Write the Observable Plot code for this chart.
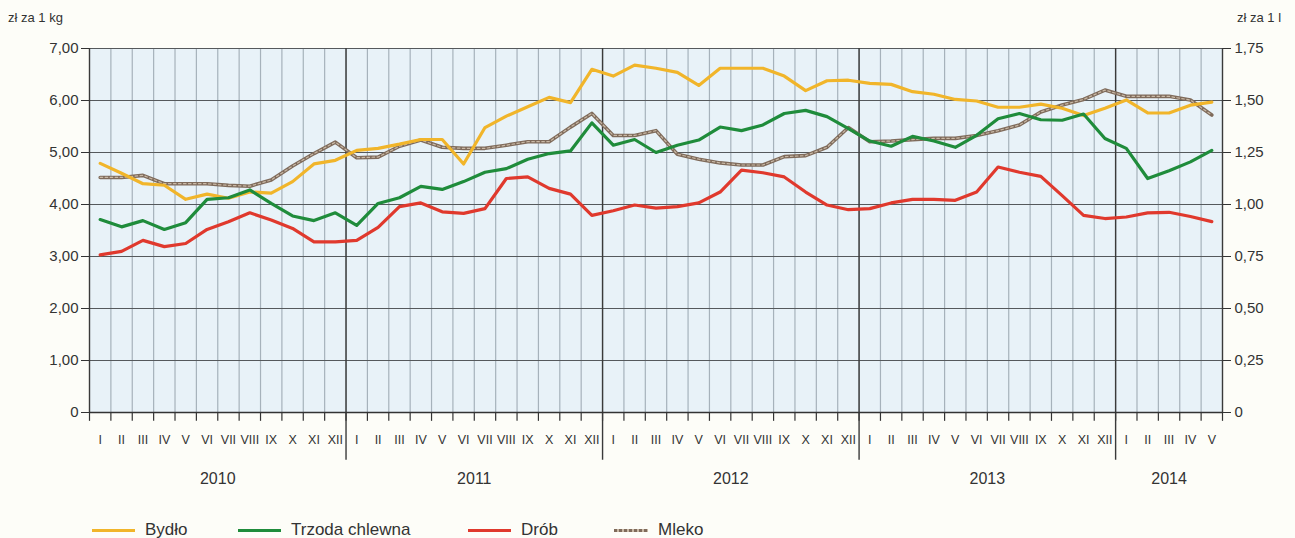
<!DOCTYPE html>
<html>
<head>
<meta charset="utf-8">
<script src="https://cdn.jsdelivr.net/npm/d3@7"></script>
<script src="https://cdn.jsdelivr.net/npm/@observablehq/plot@0.6"></script>
<style>
  html, body { margin: 0; padding: 0; background: #fdfdf8; }
  body { width: 1295px; height: 538px; position: relative; overflow: hidden; font-family: "Liberation Sans", Arial, sans-serif; color: #333; }
  .unit { position: absolute; top: 10px; font-size: 13px; color: #333; }
  #legend { position: absolute; top: 520px; left: 0; width: 1295px; height: 22px; }
  .item { position: absolute; top: 0; display: flex; align-items: center; font-size: 17px; color: #333; }
  .sw { display: inline-block; width: 43px; height: 3px; margin-right: 10px; }
  #chart { position: absolute; top: 0; left: 0; }
</style>
</head>
<body>
<div class="unit" style="left:8px">zł za 1 kg</div>
<div class="unit" style="left:1237px">zł za 1 l</div>
<div id="chart"></div>
<div id="legend"></div>
<script>
// ---- data ----
const months = ["I","II","III","IV","V","VI","VII","VIII","IX","X","XI","XII"];
const years = ["2010","2011","2012","2013","2014"];
const monthsPerYear = [12, 12, 12, 12, 5];

// zł za 1 kg
const bydlo = [
  4.79, 4.60, 4.40, 4.37, 4.10, 4.20, 4.12, 4.24, 4.22, 4.44, 4.78, 4.85,
  5.04, 5.08, 5.16, 5.25, 5.25, 4.78, 5.48, 5.70, 5.88, 6.06, 5.96, 6.60,
  6.47, 6.68, 6.62, 6.54, 6.29, 6.62, 6.62, 6.62, 6.47, 6.19, 6.38, 6.39,
  6.33, 6.31, 6.17, 6.12, 6.02, 5.99, 5.87, 5.87, 5.93, 5.85, 5.71, 5.85,
  6.01, 5.76, 5.76, 5.91, 5.97
];
const trzoda = [
  3.71, 3.57, 3.69, 3.52, 3.65, 4.10, 4.13, 4.28, 4.02, 3.78, 3.69, 3.84,
  3.60, 4.02, 4.13, 4.35, 4.29, 4.44, 4.62, 4.69, 4.87, 4.98, 5.03, 5.57,
  5.14, 5.25, 5.00, 5.14, 5.24, 5.49, 5.42, 5.53, 5.75, 5.81, 5.69, 5.46,
  5.22, 5.12, 5.31, 5.22, 5.10, 5.33, 5.65, 5.75, 5.63, 5.62, 5.74, 5.27,
  5.08, 4.50, 4.65, 4.82, 5.04
];
const drob = [
  3.03, 3.10, 3.31, 3.19, 3.25, 3.52, 3.67, 3.84, 3.70, 3.54, 3.28, 3.28,
  3.31, 3.56, 3.96, 4.03, 3.86, 3.83, 3.92, 4.50, 4.53, 4.31, 4.20, 3.79,
  3.88, 3.99, 3.93, 3.96, 4.03, 4.24, 4.66, 4.61, 4.53, 4.24, 3.99, 3.90,
  3.92, 4.03, 4.10, 4.10, 4.08, 4.24, 4.72, 4.62, 4.54, 4.17, 3.79, 3.73,
  3.76, 3.84, 3.85, 3.77, 3.67
];
// zł za 1 l (right axis)
const mleko = [
  1.130, 1.130, 1.140, 1.100, 1.100, 1.100, 1.092, 1.088, 1.118, 1.185, 1.245, 1.300,
  1.225, 1.228, 1.280, 1.310, 1.275, 1.270, 1.270, 1.285, 1.302, 1.302, 1.372, 1.438,
  1.332, 1.332, 1.355, 1.242, 1.218, 1.200, 1.190, 1.190, 1.230, 1.235, 1.275, 1.370,
  1.302, 1.305, 1.312, 1.318, 1.318, 1.332, 1.355, 1.382, 1.445, 1.478, 1.505, 1.550,
  1.520, 1.520, 1.520, 1.502, 1.430
];
const leftTicks = [0, 1, 2, 3, 4, 5, 6, 7];
const rightTicks = [0, 0.25, 0.5, 0.75, 1.0, 1.25, 1.5, 1.75];

const seriesInfo = [
  {name: "Bydło", values: bydlo, color: "#f1b52a", factor: 1},
  {name: "Trzoda chlewna", values: trzoda, color: "#1f8c3b", factor: 1},
  {name: "Drób", values: drob, color: "#e0392d", factor: 1},
  {name: "Mleko", values: mleko, color: "#7f6b5b", factor: 4}
];

// ---- derived tables ----
const periods = [];
years.forEach((yr, yi) => {
  for (let m = 0; m < monthsPerYear[yi]; m++) periods.push({year: yr, month: months[m]});
});
const N = periods.length;
const rows = s => s.values.map((v, i) => ({i: i + 0.5, v: v * s.factor}));
const yearStarts = [];
let acc = 0;
years.forEach((yr, yi) => { yearStarts.push({year: yr, start: acc, mid: acc + monthsPerYear[yi] / 2}); acc += monthsPerYear[yi]; });
const fmt = d => d === 0 ? "0" : d.toFixed(2).replace(".", ",");

const lineMarks = [];
// draw milk first (underneath), then the meat series
[seriesInfo[3], seriesInfo[0], seriesInfo[1], seriesInfo[2]].forEach(s => {
  if (s.name === "Mleko") {
    lineMarks.push(Plot.line(rows(s), {x: "i", y: "v", stroke: s.color, strokeWidth: 3.6, strokeLinejoin: "round"}));
    lineMarks.push(Plot.line(rows(s), {x: "i", y: "v", stroke: "#c9b9a6", strokeWidth: 1.2, strokeDasharray: "2.5,2.5"}));
  } else {
    lineMarks.push(Plot.line(rows(s), {x: "i", y: "v", stroke: s.color, strokeWidth: 3.2, strokeLinejoin: "round"}));
  }
});

const chart = Plot.plot({
  width: 1295,
  height: 518,
  marginTop: 48,
  marginLeft: 89,
  marginRight: 73,
  marginBottom: 106,
  style: {background: "transparent", fontFamily: "Liberation Sans, Arial, sans-serif", fontSize: "15px", color: "#333", overflow: "visible"},
  x: {domain: [0, N], axis: null},
  y: {domain: [0, 7], axis: null},
  marks: [
    Plot.frame({fill: "#e8f2f8", stroke: null}),
    Plot.ruleX(d3.range(1, N), {stroke: "#a6b2bb", strokeWidth: 1.2}),
    Plot.ruleY(leftTicks, {stroke: "#55595c", strokeWidth: 1.2}),
    Plot.ruleX(d3.range(0, N + 1), {y1: 0, y2: -0.17, stroke: "#333", strokeWidth: 1.2}),
    Plot.ruleX(yearStarts.slice(1), {x: "start", y1: 7, y2: -0.92, stroke: "#3a3a3a", strokeWidth: 1.4}),
    Plot.ruleX([0, N], {y1: 0, y2: 7, stroke: "#3a3a3a", strokeWidth: 1.4}),
    Plot.ruleY([0], {stroke: "#333", strokeWidth: 1.4}),
    ...lineMarks,
    Plot.axisY(leftTicks, {anchor: "left", tickFormat: fmt, tickSize: 8, tickPadding: 3, label: null, fontSize: 15, stroke: "#333"}),
    Plot.axisY(leftTicks, {anchor: "right", tickFormat: d => fmt(d / 4), tickSize: 8, tickPadding: 4, label: null, fontSize: 15, stroke: "#333"}),
    Plot.text(periods, {x: (d, i) => i + 0.5, y: () => 0, text: "month", dy: 27, fontSize: 12.5, fill: "#333"}),
    Plot.text(yearStarts, {x: "mid", y: () => 0, text: "year", dy: 66, fontSize: 16, fill: "#333"})
  ]
});
document.getElementById("chart").appendChild(chart);

// ---- legend ----
const legendX = [92, 238, 468, 614];
const legend = document.getElementById("legend");
seriesInfo.forEach((s, k) => {
  const item = document.createElement("div");
  item.className = "item";
  item.style.left = legendX[k] + "px";
  const sw = document.createElement("span");
  sw.className = "sw";
  if (s.name === "Mleko") {
    sw.style.width = "34px";
    sw.style.background = `repeating-linear-gradient(90deg, ${s.color} 0 3px, #c9b9a6 3px 5px)`;
  } else {
    sw.style.background = s.color;
  }
  item.appendChild(sw);
  const t = document.createElement("span");
  t.textContent = s.name;
  item.appendChild(t);
  legend.appendChild(item);
});
</script>
</body>
</html>
